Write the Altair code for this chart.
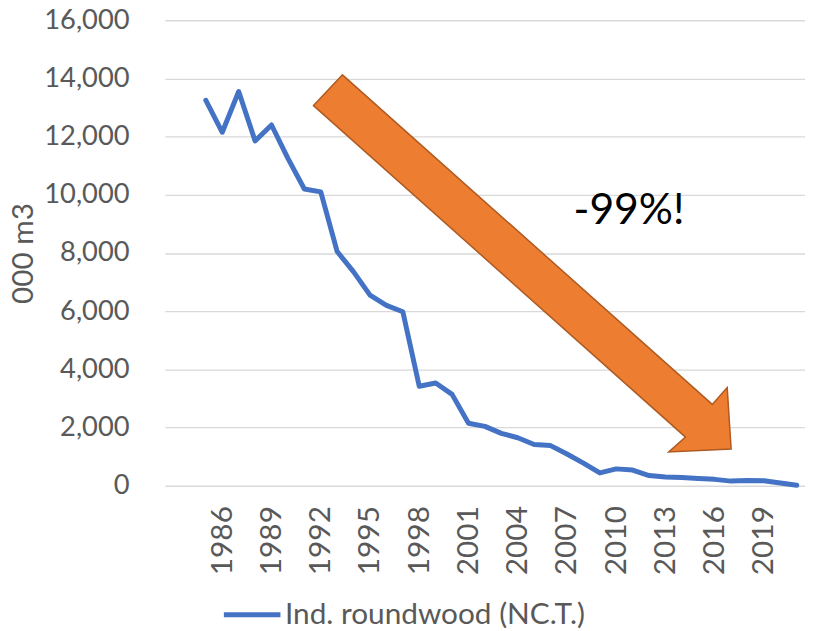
import altair as alt
import pandas as pd

years = list(range(1985, 2022))
values = [13250, 12150, 13550, 11850, 12400, 11250, 10200, 10100, 8050, 7350,
          6550, 6200, 5980, 3420, 3530, 3140, 2150, 2040, 1800, 1650,
          1420, 1380, 1090, 780, 440, 580, 540, 350, 300, 280,
          250, 220, 160, 180, 170, 95, 20]
series_name = "Ind. roundwood (NC.T.)"
x_tick_years = list(range(1986, 2020, 3))
y_ticks = list(range(0, 16001, 2000))

# annotation arrow outline (year, value units)
arrow_x = [1991.56, 1993.32, 2015.85, 2016.76, 2017.00, 2013.20, 2014.22]
arrow_y = [13066, 14124, 2797, 3377, 1262, 1160, 1672]
note_text = "-99%!"
note_x = [2010.78]
note_y = [9006]

df = pd.DataFrame({"year": years, "value": values, "series": series_name})
arrow_df = pd.DataFrame({"x": arrow_x, "y": arrow_y, "i": list(range(len(arrow_x)))})
note_df = pd.DataFrame({"x": note_x, "y": note_y, "t": [note_text]})

FONT = "Lato"
GRAY = "#595959"

xscale = alt.Scale(domain=[1982.5, 2021.5], nice=False, zero=False)
yscale = alt.Scale(domain=[0, 16000], nice=False)

x_axis = alt.Axis(values=x_tick_years, format="d", labelAngle=270, grid=False,
                  domain=False, ticks=False, labelPadding=20, title=None,
                  labelFont=FONT, labelFontSize=30, labelColor=GRAY,
                  labelFlush=False, labelBound=False, labelOverlap=False)
y_axis = alt.Axis(values=y_ticks, format=",.0f", grid=True, gridColor="#D9D9D9",
                  gridWidth=1.3, domain=False, ticks=False, labelPadding=36,
                  title="000 m3", titleFont=FONT, titleFontSize=30,
                  titleFontWeight="normal", titleColor=GRAY, titlePadding=5,
                  labelFont=FONT, labelFontSize=27.5, labelColor=GRAY)

line = alt.Chart(df).mark_line(strokeWidth=5, strokeCap="round", strokeJoin="round").encode(
    x=alt.X("year:Q", scale=xscale, axis=x_axis),
    y=alt.Y("value:Q", scale=yscale, axis=y_axis),
    color=alt.Color("series:N", scale=alt.Scale(domain=[series_name], range=["#4472C4"]),
                    legend=alt.Legend(title=None, orient="none", legendX=57, legendY=568,
                                      symbolType="stroke", symbolSize=3249,
                                      symbolStrokeWidth=5, labelFont=FONT,
                                      labelFontSize=30, labelColor=GRAY, labelLimit=0,
                                      labelOffset=2, padding=0)),
)

arrow = alt.Chart(arrow_df).mark_line(
    interpolate="linear-closed", fill="#ED7D31", stroke="#AE5A21", strokeWidth=1.5
).encode(
    x=alt.X("x:Q", scale=xscale, axis=x_axis),
    y=alt.Y("y:Q", scale=yscale, axis=y_axis),
    order="i:Q",
)

note = alt.Chart(note_df).mark_text(
    font=FONT, fontSize=43, color="#000000", align="center", baseline="alphabetic"
).encode(
    x=alt.X("x:Q", scale=xscale, axis=x_axis),
    y=alt.Y("y:Q", scale=yscale, axis=y_axis),
    text="t:N",
)

chart = alt.layer(line, arrow, note).properties(
    width=645, height=469,
    autosize=alt.AutoSizeParams(type="none"),
    padding={"left": 158, "top": 10, "right": 0, "bottom": 144},
    background="white",
).configure_view(stroke=None)

chart.save("out.html", embed_options={"renderer": "svg", "actions": False})
